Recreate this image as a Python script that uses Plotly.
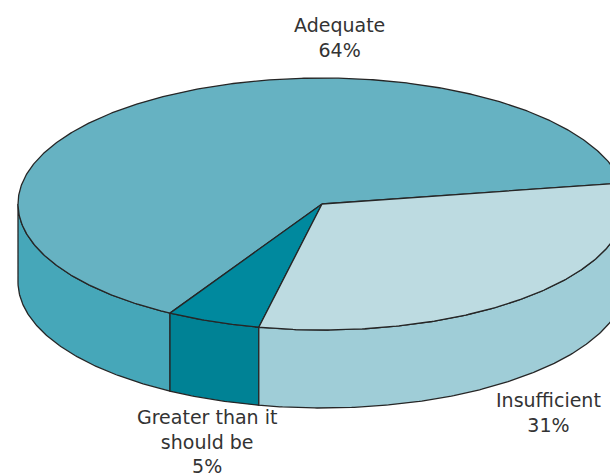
import numpy as np
import plotly.graph_objects as go

categories = ["Adequate", "Greater than it<br>should be", "Insufficient"]
shares = [64, 5, 31]
top_colors = ["#66b2c2", "#00899e", "#bddbe1"]
wall_colors = ["#46a7b9", "#008295", "#9fcdd7"]
label_x = [339, 207, 548]
label_y = [37, 441.5, 412.5]

W, H = 610, 475
CX, CY, RX, RY, DEPTH = 322, 204, 304, 126, 78
START = 9.6
INK = "#262626"
TEXT = "#333333"
FONT = "DejaVu Sans, sans-serif"


def rim(a0, a1, drop=0.0):
    t = np.radians(np.linspace(a0, a1, max(int(abs(a1 - a0) * 2), 2)))
    return CX + RX * np.cos(t), CY - RY * np.sin(t) + drop


fig = go.Figure()
edges = START + np.concatenate([[0], np.cumsum(shares)]) * 3.6

# side walls (only the front half of the cylinder is visible)
for i in range(len(shares)):
    a0, a1 = edges[i], edges[i + 1]
    a0v, a1v = max(a0, 180), min(a1, 360)
    if a1v <= a0v:
        continue
    xt, yt = rim(a0v, a1v)
    xb, yb = rim(a1v, a0v, DEPTH)
    fig.add_trace(go.Scatter(
        x=np.r_[xt, xb, xt[0]], y=np.r_[yt, yb, yt[0]],
        mode="lines", fill="toself", fillcolor=wall_colors[i],
        line=dict(color=INK, width=1.3), hoverinfo="skip", showlegend=False))

# top faces
for i in range(len(shares)):
    xt, yt = rim(edges[i], edges[i + 1])
    fig.add_trace(go.Scatter(
        x=np.r_[CX, xt, CX], y=np.r_[CY, yt, CY],
        mode="lines", fill="toself", fillcolor=top_colors[i],
        line=dict(color=INK, width=1.3), hoverinfo="skip", showlegend=False))

for name, val, lx, ly in zip(categories, shares, label_x, label_y):
    fig.add_annotation(x=lx, y=ly, xref="x", yref="y", text=f"{name}<br>{val}%",
                       showarrow=False, xanchor="center", yanchor="middle",
                       font=dict(family=FONT, size=19, color=TEXT))

fig.update_layout(
    width=W, height=H, margin=dict(l=0, r=0, t=0, b=0),
    paper_bgcolor="white", plot_bgcolor="white", showlegend=False,
    xaxis=dict(range=[0, W], visible=False, fixedrange=True),
    yaxis=dict(range=[H, 0], visible=False, fixedrange=True),
)
fig.write_html("out.html", post_script="document.body.style.margin='0';document.body.style.overflow='hidden';",
               config=dict(displayModeBar=False))
